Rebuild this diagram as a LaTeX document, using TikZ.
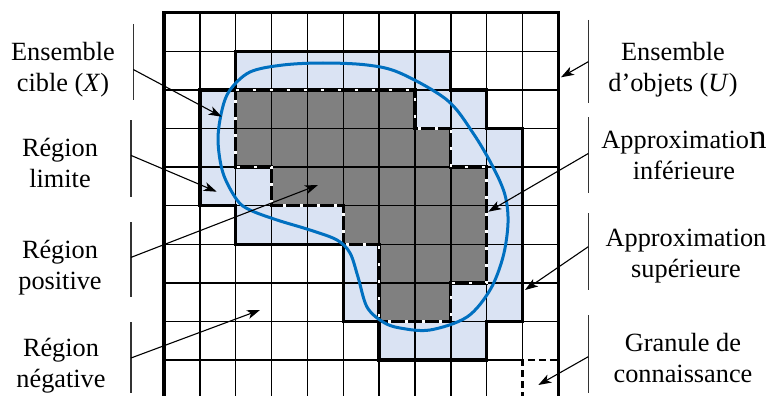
\documentclass[tikz,border=0pt]{standalone}
\usepackage{fontspec}
\setmainfont{Liberation Serif}
\usetikzlibrary{arrows.meta}
\definecolor{lightfill}{HTML}{DAE3F3}
\definecolor{darkfill}{HTML}{808080}
\definecolor{curveblue}{HTML}{0070C0}
\begin{document}
\begin{tikzpicture}[x=1pt,y=-1pt,
  lbl/.style={font=\fontsize{26.3}{31}\selectfont, align=center, inner sep=0pt},
  leader/.style={line width=1.1pt, -{Stealth[length=13pt,width=9pt,inset=3.5pt]}},
  bar/.style={line width=1.2pt, black!80},
  gridline/.style={line width=1.4pt},
  upperline/.style={line width=3.3pt, line join=miter},
  lowerline/.style={line width=3.3pt, line join=miter},
  lowerdash/.style={white, line width=2.6pt, dash pattern=on 3pt off 14pt},
  granule/.style={line width=2.6pt, dash pattern=on 7pt off 4pt},
  border/.style={line width=3.6pt, line join=miter},
  setcurve/.style={curveblue, line width=3pt}
]
\useasboundingbox (0,0) rectangle (771,396);
\begin{scope}[shift={(164,12.7)}, x=35.85pt, y=-38.6pt]
  \fill[lightfill] (2,1) -- (8,1) -- (8,2) -- (9,2) -- (9,3) -- (10,3) -- (10,8) -- (9,8) -- (9,9) -- (6,9) -- (6,8) -- (5,8) -- (5,6) -- (2,6) -- (2,5) -- (1,5) -- (1,2) -- (2,2) -- cycle;
  \fill[darkfill] (2,2) -- (7,2) -- (7,3) -- (8,3) -- (8,4) -- (9,4) -- (9,7) -- (8,7) -- (8,8) -- (6,8) -- (6,6) -- (5,6) -- (5,5) -- (3,5) -- (3,4) -- (2,4) -- cycle;
  \foreach \i in {1,...,10} \draw[gridline] (\i,0) -- (\i,10);
  \foreach \j in {1,...,9} \draw[gridline] (0,\j) -- (11,\j);
  \draw[upperline] (2,1) -- (8,1) -- (8,2) -- (9,2) -- (9,3) -- (10,3) -- (10,8) -- (9,8) -- (9,9) -- (6,9) -- (6,8) -- (5,8) -- (5,6) -- (2,6) -- (2,5) -- (1,5) -- (1,2) -- (2,2) -- cycle;
  \draw[lowerline] (2,2) -- (7,2) -- (7,3) -- (8,3) -- (8,4) -- (9,4) -- (9,7) -- (8,7) -- (8,8) -- (6,8) -- (6,6) -- (5,6) -- (5,5) -- (3,5) -- (3,4) -- (2,4) -- cycle;
  \draw[lowerdash] (2,2) -- (7,2) -- (7,3) -- (8,3) -- (8,4) -- (9,4) -- (9,7) -- (8,7) -- (8,8) -- (6,8) -- (6,6) -- (5,6) -- (5,5) -- (3,5) -- (3,4) -- (2,4) -- cycle;
  \draw[white, line width=2.6pt] (10,10) -- (10,9) -- (11,9);
  \draw[granule] (10,10) -- (10,9) -- (11,9);
  \draw[border] (0,0) rectangle (11,10);
\end{scope}
\draw[setcurve] plot[smooth cycle, tension=0.55] coordinates {(323,63) (367,65) (400,73) (447,100) (473,133) (493,167) (505,195) (508,223) (503,257) (490,290) (467,317) (430,330) (400,328) (383,322) (367,307) (358,277) (350,253) (337,240) (310,230) (277,220) (250,210) (237,200) (223,173) (218,140) (222,110) (230,90) (250,72) (283,65)};
% labels
\node[lbl] (lX) at (63,70.3) {\strut Ensemble\\\strut cible (\textit{X})};
\node[lbl] (lLim) at (60,165.8) {\strut Région\\\strut limite};
\node[lbl] (lPos) at (60,267.3) {\strut Région\\\strut positive};
\node[lbl] (lNeg) at (61,365.3) {\strut Région\\\strut négative};
\node[lbl] (lU) at (673,70.3) {\strut Ensemble\\\strut d’objets (\textit{U})};
\node[lbl] (lInf) at (684,157.8) {\strut Approximatio{\fontsize{35}{31}\selectfont n}\\\strut inférieure};
\node[lbl] (lSup) at (686,255.3) {\strut Approximation\\\strut supérieure};
\node[lbl] (lGr) at (683,360.5) {\strut Granule de\\\strut connaissance};
% bars
\coordinate (bXa) at (133.3,24); \coordinate (bXb) at (133.3,100);
\coordinate (bLa) at (131,120); \coordinate (bLb) at (131,197);
\coordinate (bPa) at (131,222); \coordinate (bPb) at (131,297);
\coordinate (bNa) at (131,322); \coordinate (bNb) at (131,393);
\coordinate (bUa) at (588.3,20); \coordinate (bUb) at (588.3,103);
\coordinate (bIa) at (588.3,117); \coordinate (bIb) at (588.3,193);
\coordinate (bSa) at (588.3,213); \coordinate (bSb) at (588.3,290);
\coordinate (bGa) at (588.3,315); \coordinate (bGb) at (588.3,393);
\foreach \b in {X,L,P,N,U,I,S,G} \draw[bar] (b\b a) -- (b\b b);
% connector ends
\coordinate (sX) at (133.3,69.5);   \coordinate (tX) at (221.7,116.7);
\coordinate (sL) at (131,155.4);    \coordinate (tL) at (216.7,191.7);
\coordinate (sP) at (131,257.4);    \coordinate (tP) at (318,185);
\coordinate (sN) at (131,358);      \coordinate (tN) at (260,310);
\coordinate (sU) at (588.3,61.7);   \coordinate (tU) at (561,77.3);
\coordinate (sI) at (588.3,153.5);  \coordinate (tI) at (488.3,211.7);
\coordinate (sS) at (588.3,246.7);  \coordinate (tS) at (525,290);
\coordinate (sG) at (588.3,356.7);  \coordinate (tG) at (538.3,385);
\foreach \b in {X,L,P,N,U,I,S,G} \draw[leader] (s\b) -- (t\b);
\end{tikzpicture}
\end{document}
